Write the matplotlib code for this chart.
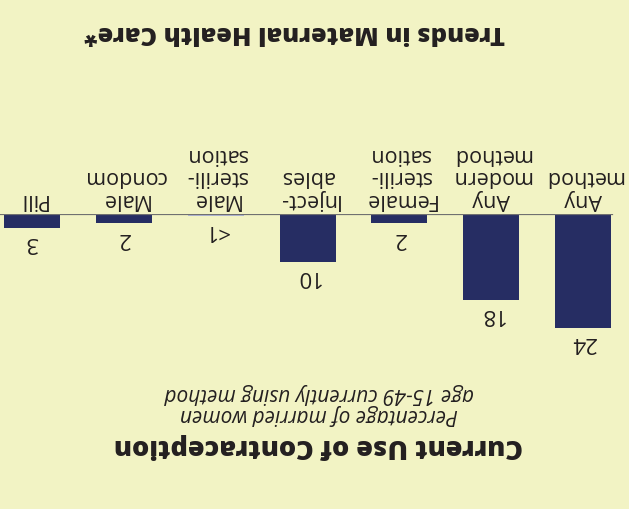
import matplotlib.pyplot as plt

plt.rcParams['font.family'] = ['Open Sans', 'DejaVu Sans']

# chart is shown rotated 180 degrees, as in the reference
categories = ["Any\nmethod", "Any\nmodern\nmethod", "Female\nsterili-\nsation",
              "Inject-\nables", "Male\nsterili-\nsation", "Male\ncondom", "Pill"]
values = [24, 18, 2, 10, 0.4, 2, 3]
value_labels = ["24", "18", "2", "10", "<1", "2", "3"]
bar_colors = ["#262d63", "#262d63", "#262d63", "#262d63", "#b3b8d8", "#262d63", "#262d63"]

bg = "#f2f3c4"
txt = "#231f20"

fig = plt.figure(figsize=(6.29, 5.09), dpi=100, facecolor=bg)
ax = fig.add_axes([0, 0.2927, 1, 0.2869])
ax.set_facecolor(bg)

x = list(range(len(categories)))
ax.bar(x, values, width=0.61, color=bar_colors)
ax.set_xlim(6.35, -0.50)
ax.set_ylim(30.7, 0)
ax.axhline(0, xmin=0, xmax=0.973, color="#707070", lw=1.6)
ax.axis("off")

for i, (v, lab) in enumerate(zip(values, value_labels)):
    ax.annotate(lab, (i, v), xytext=(0, -3), textcoords="offset points",
                ha="center", va="top", rotation=180, fontsize=16, color=txt)

for i, cat in enumerate(categories):
    ax.annotate(cat, (i, 0), xytext=(0, 3), textcoords="offset points",
                ha="center", va="bottom", rotation=180, fontsize=15.5,
                color=txt, multialignment="center", linespacing=1.1,
                annotation_clip=False)

fig.text(0.468, 1 - 32 / 509, "Trends in Maternal Health Care*", rotation=180,
         ha="center", va="center", fontsize=18.3, fontweight="heavy", color=txt)
fig.text(0.507, 1 - 446 / 509, "Current Use of Contraception", rotation=180,
         ha="center", va="center", fontsize=19.5, fontweight="heavy", color=txt)
fig.text(0.507, 1 - 404 / 509, "Percentage of married women\nage 15-49 currently using method",
         rotation=180, ha="center", va="center", fontsize=15, style="italic",
         color=txt, linespacing=1.0)

fig.savefig("out.png", dpi=100, facecolor=bg)
